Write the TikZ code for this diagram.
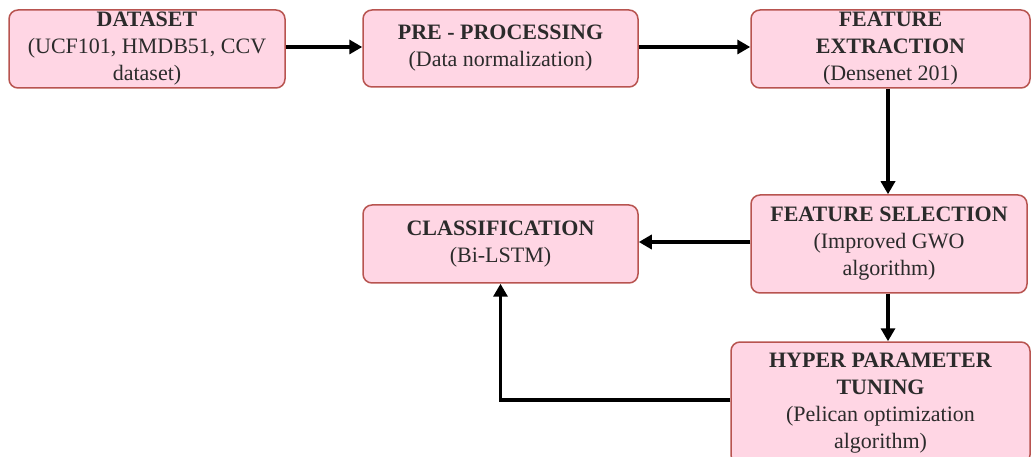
\documentclass[tikz,border=0pt]{standalone}
\usepackage{fontspec}
\setmainfont{Liberation Serif}
\usetikzlibrary{arrows.meta}
\definecolor{boxfill}{HTML}{FFD6E4}
\definecolor{boxline}{HTML}{B85450}
\definecolor{txt}{HTML}{2B2B2B}
\tikzset{
  box/.style={draw=boxline, fill=boxfill, line width=1.5pt, rounded corners=9pt,
    align=center, text=txt, inner sep=0pt,
    font=\fontsize{22}{27}\selectfont},
  conn/.style={line width=3.5pt, -{Triangle[length=13pt,width=14pt]}},
}
\begin{document}
\begin{tikzpicture}[x=1pt,y=-1pt]
\useasboundingbox (0,0) rectangle (1034,457);
\node[box, minimum width=276pt, minimum height=78pt] (ds) at (147,49)
  {\textbf{DATASET}\\(UCF101, HMDB51, CCV\\dataset)};
\node[box, minimum width=275pt, minimum height=77pt] (pp) at (500.5,48.5)
  {\textbf{PRE - PROCESSING}\\(Data normalization)};
\node[box, minimum width=279pt, minimum height=78pt] (fe) at (890.5,49)
  {\textbf{FEATURE}\\\textbf{EXTRACTION}\\(Densenet 201)};
\node[box, minimum width=276pt, minimum height=98pt] (fs) at (889,244)
  {\textbf{FEATURE SELECTION}\\(Improved GWO\\algorithm)};
\node[box, minimum width=275pt, minimum height=78pt] (cl) at (500.5,244)
  {\textbf{CLASSIFICATION}\\(Bi-LSTM)};
\node[box, minimum width=299pt, minimum height=122pt] (hp) at (880.5,403)
  {\textbf{HYPER PARAMETER}\\\textbf{TUNING}\\(Pelican optimization\\algorithm)};
\draw[conn] (ds.east |- 0,47) -- (pp.west |- 0,47);
\draw[conn] (pp.east |- 0,47) -- (fe.west |- 0,47);
\draw[conn] (888,0 |- fe.south) -- (888,0 |- fs.north);
\draw[conn] (fs.west |- 0,242) -- (cl.east |- 0,242);
\draw[conn] (888,0 |- fs.south) -- (888,0 |- hp.north);
\draw[conn] (hp.west |- 0,400) -| (cl.south);
\end{tikzpicture}
\end{document}
